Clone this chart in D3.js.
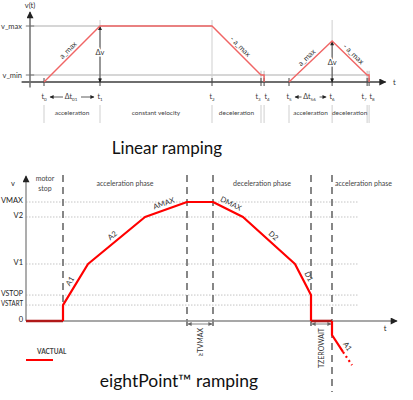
<!DOCTYPE html>
<html><head><meta charset="utf-8">
<script src="https://cdn.jsdelivr.net/npm/d3@7"></script>
<style>body{margin:0;background:#fff} svg{display:block} text{font-family:Lato,"Open Sans",sans-serif}</style>
</head><body>
<svg id="c" width="413" height="400"></svg>
<script>
// ---------- DATA: Linear ramping (top) ----------
const topTickNames = ["0","1","2","3","4","5","6","7","8"];
const topTickTimes = [0, 2, 6, 7.75, 7.86, 8.75, 10.29, 11.54, 11.61];
const topLevelNames = ["v_max", "v_min"];
const topLevelValues = [8, 1];
const topPeak = 5.85;
const topProfile1T = [0, 2, 6, 7.75, 7.86, 7.86];
const topProfile1V = [0, 8, 8, 1, 1, 0];
const topProfile2T = [8.75, 10.29, 11.54, 11.61, 11.61];
const topProfile2V = [0, 5.85, 1, 1, 0];
const topPhaseNames = ["acceleration", "constant velocity", "deceleration", "acceleration", "deceleration"];
const topPhaseStart = [0, 2, 6, 8.75, 10.29];
const topPhaseEnd = [2, 6, 7.75, 10.29, 11.54];
const topSlopeNames = ["a_max", "- a_max", "a_max", "- a_max"];
const topSlopeT0 = [0, 6, 8.75, 10.29];
const topSlopeV0 = [0, 8, 0, 5.85];
const topSlopeT1 = [2, 7.75, 10.29, 11.54];
const topSlopeV1 = [8, 1, 5.85, 1];

// ---------- DATA: eightPoint ramping (bottom) ----------
const botLevelNames = ["0", "VSTART", "VSTOP", "V1", "V2", "VMAX"];
const botLevelValues = [0, 13.4, 21.8, 47.9, 87.4, 100];
const botProfileT = [37, 37, 62, 119, 161, 187, 217, 269, 285, 285];
const botProfileV = [0, 13.4, 47.9, 87.4, 100, 100, 87.4, 47.9, 21.8, 0];
const botStopT0 = [0, 285];
const botStopT1 = [37, 306];
const botRestartT = [306, 306, 317];
const botRestartV = [0, -11.8, -26];
const botContT = [317, 326];
const botContV = [-26, -37];
const botSlopeNames = ["A1", "A2", "AMAX", "DMAX", "D2", "D1", "A1"];
const botSlopeT0 = [37, 62, 119, 187, 217, 269, 306];
const botSlopeV0 = [13.4, 47.9, 87.4, 100, 87.4, 47.9, -11.8];
const botSlopeT1 = [62, 119, 161, 217, 269, 285, 326];
const botSlopeV1 = [47.9, 87.4, 100, 87.4, 47.9, 21.8, -37];
const botBounds = [37, 161, 187, 285, 306];
const botPhaseNames = ["acceleration phase", "deceleration phase", "acceleration phase"];
const botPhaseStart = [37, 187, 306];
const botPhaseEnd = [161, 285, null];
const botIntervalNames = ["≥TVMAX", "TZEROWAIT"];
const botIntervalT0 = [161, 285];
const botIntervalT1 = [187, 306];

// ---------- DRAW ----------
const svg = d3.select("#c");
const defs = svg.append("defs");
function mk(id, color, w, h) {
  defs.append("marker").attr("id", id).attr("viewBox", "0 0 10 10")
    .attr("refX", 9).attr("refY", 5).attr("markerWidth", w).attr("markerHeight", h)
    .attr("markerUnits", "userSpaceOnUse").attr("orient", "auto-start-reverse")
    .append("path").attr("d", "M0,0L10,5L0,10Z").attr("fill", color);
}
mk("arrBig", "#222", 9, 7);
mk("arrSm", "#222", 5, 4);
mk("arrGr", "#666", 4, 4);

// ===== TOP =====
const topX = d3.scaleLinear().domain([0, 12]).range([44, 380]);
const topY = d3.scaleLinear().domain([0, 8]).range([82, 26]);
const g1 = svg.append("g");

g1.selectAll(".lvl").data(topLevelValues).join("line")
  .attr("x1", topX(-0.5)).attr("x2", (d, i) => i === 0 ? topX(6) : topX(11.61))
  .attr("y1", d => topY(d)).attr("y2", d => topY(d))
  .attr("stroke", "#d6d6d6").attr("stroke-width", 2);
g1.selectAll(".lvt").data(topLevelValues).join("line")
  .attr("x1", topX(-0.65)).attr("x2", topX(-0.35))
  .attr("y1", d => topY(d)).attr("y2", d => topY(d))
  .attr("stroke", "#777").attr("stroke-width", 1);
g1.selectAll(".lvn").data(topLevelNames).join("text")
  .attr("x", 22).attr("y", (d, i) => topY(topLevelValues[i]) + 2.5)
  .attr("text-anchor", "end").attr("font-size", 7.5).attr("fill", "#333").text(d => d);

const tallIdx = [1, 2, 6], shortIdx = [3, 4, 7, 8];
g1.selectAll(".vt").data(tallIdx).join("line")
  .attr("x1", i => topX(topTickTimes[i])).attr("x2", i => topX(topTickTimes[i]))
  .attr("y1", 20).attr("y2", topY(0)).attr("stroke", "#cfcfcf").attr("stroke-width", 1);
g1.selectAll(".vs").data(shortIdx).join("line")
  .attr("x1", i => topX(topTickTimes[i])).attr("x2", i => topX(topTickTimes[i]))
  .attr("y1", topY(1.6)).attr("y2", topY(0)).attr("stroke", "#bbb").attr("stroke-width", 1);
g1.selectAll(".vb").data(topTickTimes).join("line")
  .attr("x1", d => topX(d)).attr("x2", d => topX(d))
  .attr("y1", 105).attr("y2", 123).attr("stroke", "#cfcfcf").attr("stroke-width", 1);

g1.append("line").attr("x1", topX(-0.8)).attr("x2", topX(12.2)).attr("y1", topY(0)).attr("y2", topY(0))
  .attr("stroke", "#6e6e6e").attr("stroke-width", 2).attr("marker-end", "url(#arrBig)");
g1.append("line").attr("x1", topX(-0.5)).attr("x2", topX(-0.5)).attr("y1", topY(-0.8)).attr("y2", 12)
  .attr("stroke", "#6e6e6e").attr("stroke-width", 1.5).attr("marker-end", "url(#arrBig)");
g1.append("text").attr("x", topX(-0.5)).attr("y", 8).attr("text-anchor", "middle")
  .attr("font-size", 7.5).attr("fill", "#333").text("v(t)");
g1.append("text").attr("x", 393).attr("y", topY(0) + 3).attr("font-size", 7.5).attr("fill", "#333").text("t");
g1.selectAll(".tk").data(topTickTimes).join("line")
  .attr("x1", d => topX(d)).attr("x2", d => topX(d))
  .attr("y1", topY(0) - 4).attr("y2", topY(0) + 4).attr("stroke", "#444").attr("stroke-width", 1);
const tkShift = [0, 0, 0, -3, 3, 0, 0, -3, 3];
const tl = g1.selectAll(".tl").data(topTickNames).join("text")
  .attr("x", (d, i) => topX(topTickTimes[i]) + tkShift[i]).attr("y", 99)
  .attr("text-anchor", "middle").attr("font-size", 7).attr("fill", "#333");
tl.append("tspan").text("t");
tl.append("tspan").attr("font-size", 4.5).attr("dy", 1.5).text(d => d);

function dtArrow(a, b, sub) {
  const xa = topX(topTickTimes[a]), xb = topX(topTickTimes[b]), xm = (xa + xb) / 2;
  g1.append("line").attr("x1", xm - 9).attr("x2", xa + 6).attr("y1", 97).attr("y2", 97)
    .attr("stroke", "#333").attr("stroke-width", 0.8).attr("marker-end", "url(#arrSm)");
  g1.append("line").attr("x1", xm + 9).attr("x2", xb - 6).attr("y1", 97).attr("y2", 97)
    .attr("stroke", "#333").attr("stroke-width", 0.8).attr("marker-end", "url(#arrSm)");
  const t = g1.append("text").attr("x", xm - 1).attr("y", 99).attr("text-anchor", "middle")
    .attr("font-size", 7).attr("fill", "#333");
  t.append("tspan").text("Δt");
  t.append("tspan").attr("font-size", 4.5).attr("dy", 1.5).text(sub);
}
dtArrow(0, 1, "01");
dtArrow(5, 6, "56");

g1.selectAll(".ph").data(topPhaseNames).join("text")
  .attr("x", (d, i) => (topX(topPhaseStart[i]) + topX(topPhaseEnd[i])) / 2).attr("y", 115)
  .attr("text-anchor", "middle").attr("font-size", 6.5).attr("fill", "#444").text(d => d);

function dv(ti, v, ly) {
  const x = topX(topTickTimes[ti]);
  g1.append("line").attr("x1", x).attr("x2", x).attr("y1", topY(0)).attr("y2", topY(v) + 0.5)
    .attr("stroke", "#222").attr("stroke-width", 0.8)
    .attr("marker-start", "url(#arrSm)").attr("marker-end", "url(#arrSm)");
  g1.append("text").attr("x", x).attr("y", ly).attr("text-anchor", "middle").attr("font-size", 7.5)
    .attr("fill", "#333").attr("stroke", "#fff").attr("stroke-width", 3).attr("paint-order", "stroke").text("Δv");
}
dv(1, 8, 55);
dv(6, topPeak, 65);

const lineTop = d3.line().x(d => topX(d[0])).y(d => topY(d[1]));
[[topProfile1T, topProfile1V], [topProfile2T, topProfile2V]].forEach(([T, V]) => {
  g1.append("path").attr("d", lineTop(T.map((t, i) => [t, V[i]])))
    .attr("fill", "none").attr("stroke", "#f06565").attr("stroke-width", 1.4);
});
function slopeLabels(g, names, T0, V0, T1, V1, xs, ys, fs, col, dy) {
  g.selectAll(null).data(names).join("text")
    .attr("transform", (d, i) => {
      const x0 = xs(T0[i]), y0 = ys(V0[i]), x1 = xs(T1[i]), y1 = ys(V1[i]);
      const a = Math.atan2(y1 - y0, x1 - x0) * 180 / Math.PI;
      return `translate(${(x0 + x1) / 2},${(y0 + y1) / 2}) rotate(${a})`;
    })
    .attr("y", dy).attr("text-anchor", "middle").attr("font-size", fs).attr("fill", col).text(d => d);
}
slopeLabels(g1, topSlopeNames, topSlopeT0, topSlopeV0, topSlopeT1, topSlopeV1, topX, topY, 7.5, "#333", -3);

svg.append("text").attr("x", 167).attr("y", 154).attr("text-anchor", "middle")
  .attr("font-size", 17).attr("fill", "#111").text("Linear ramping");

// ===== BOTTOM =====
const botX = d3.scaleLinear().domain([0, 371]).range([26, 397]);
const botY = d3.scaleLinear().domain([0, 100]).range([321, 202]);
const g2 = svg.append("g");

g2.selectAll(".dl").data(botLevelValues.slice(1)).join("line")
  .attr("x1", botX(0)).attr("x2", botX(332)).attr("y1", d => botY(d)).attr("y2", d => botY(d))
  .attr("stroke", "#c4c4c4").attr("stroke-width", 1).attr("stroke-dasharray", "1.5,1.5");
const ax = g2.append("g").attr("transform", `translate(${botX(0) - 3},-2)`)
  .call(d3.axisLeft(botY).tickValues(botLevelValues).tickFormat((d, i) => botLevelNames[i]).tickSize(0).tickPadding(0));
ax.select(".domain").remove();
ax.selectAll("text").attr("font-size", 7.5).attr("fill", "#222").attr("font-family", "Lato,'Open Sans',sans-serif")
  .each(function () {
    const w = this.getComputedTextLength();
    if (w > 22) d3.select(this).attr("textLength", 22).attr("lengthAdjust", "spacingAndGlyphs");
  });

const bBottom = [botY(13.4), 330, 330, 330, 392];
g2.selectAll(".db").data(botBounds).join("line")
  .attr("x1", d => botX(d)).attr("x2", d => botX(d)).attr("y1", 175).attr("y2", (d, i) => bBottom[i])
  .attr("stroke", "#7a7a7a").attr("stroke-width", 1.8).attr("stroke-dasharray", "7,5");

g2.append("text").attr("x", (botX(0) + botX(37)) / 2 + 0.5).attr("y", 181).attr("text-anchor", "middle")
  .attr("font-size", 7).attr("fill", "#444").text("motor");
g2.append("text").attr("x", (botX(0) + botX(37)) / 2 + 0.5).attr("y", 191).attr("text-anchor", "middle")
  .attr("font-size", 7).attr("fill", "#444").text("stop");
g2.selectAll(".bp").data(botPhaseNames).join("text")
  .attr("x", (d, i) => botPhaseEnd[i] == null ? botX(botPhaseStart[i]) + 3 : (botX(botPhaseStart[i]) + botX(botPhaseEnd[i])) / 2)
  .attr("y", 186).attr("text-anchor", (d, i) => botPhaseEnd[i] == null ? "start" : "middle")
  .attr("font-size", 7).attr("fill", "#444").text(d => d);

g2.append("line").attr("x1", botX(0)).attr("x2", botX(371)).attr("y1", botY(0)).attr("y2", botY(0))
  .attr("stroke", "#8a8a8a").attr("stroke-width", 1.4).attr("marker-end", "url(#arrBig)");
g2.append("line").attr("x1", botX(0)).attr("x2", botX(0)).attr("y1", botY(0)).attr("y2", 176)
  .attr("stroke", "#8a8a8a").attr("stroke-width", 1.4).attr("marker-end", "url(#arrBig)");
g2.append("text").attr("x", 13).attr("y", 186).attr("text-anchor", "middle").attr("font-size", 7.5).attr("fill", "#222").text("v");
g2.append("text").attr("x", 385).attr("y", 331).attr("text-anchor", "middle").attr("font-size", 7.5).attr("fill", "#222").text("t");

botIntervalNames.forEach((n, i) => {
  const xa = botX(botIntervalT0[i]), xb = botX(botIntervalT1[i]);
  g2.append("line").attr("x1", xa + 1).attr("x2", xb - 1).attr("y1", 324).attr("y2", 324)
    .attr("stroke", "#666").attr("stroke-width", 0.8)
    .attr("marker-start", "url(#arrGr)").attr("marker-end", "url(#arrGr)");
  g2.append("text").attr("transform", `translate(${(xa + xb) / 2 + 2.5},328) rotate(-90)`)
    .attr("text-anchor", "end").attr("font-size", 7).attr("fill", "#333").text(n);
});

const lineBot = d3.line().x(d => botX(d[0])).y(d => botY(d[1]));
botStopT0.forEach((t0, i) => {
  g2.append("path").attr("d", lineBot([[t0, 0], [botStopT1[i], 0]]))
    .attr("fill", "none").attr("stroke", "#b01818").attr("stroke-width", 2.6);
});
g2.append("path").attr("d", lineBot(botProfileT.map((t, i) => [t, botProfileV[i]])))
  .attr("fill", "none").attr("stroke", "#ff0000").attr("stroke-width", 2.2).attr("stroke-linejoin", "round");
g2.append("path").attr("d", lineBot(botRestartT.map((t, i) => [t, botRestartV[i]])))
  .attr("fill", "none").attr("stroke", "#ff0000").attr("stroke-width", 2.2);
g2.append("path").attr("d", lineBot(botContT.map((t, i) => [t, botContV[i]])))
  .attr("fill", "none").attr("stroke", "#ff0000").attr("stroke-width", 2.2).attr("stroke-dasharray", "2,3");
slopeLabels(g2, botSlopeNames, botSlopeT0, botSlopeV0, botSlopeT1, botSlopeV1, botX, botY, 7.5, "#333", -4);

g2.append("line").attr("x1", 26).attr("x2", 53).attr("y1", 360).attr("y2", 360)
  .attr("stroke", "#ff0000").attr("stroke-width", 2);
g2.append("text").attr("x", 37).attr("y", 354).attr("font-size", 6.5).attr("font-weight", "bold")
  .attr("fill", "#444").text("VACTUAL");

svg.append("text").attr("x", 179).attr("y", 387).attr("text-anchor", "middle")
  .attr("font-size", 17.5).attr("fill", "#111").text("eightPoint™ ramping");
</script>
</body></html>
